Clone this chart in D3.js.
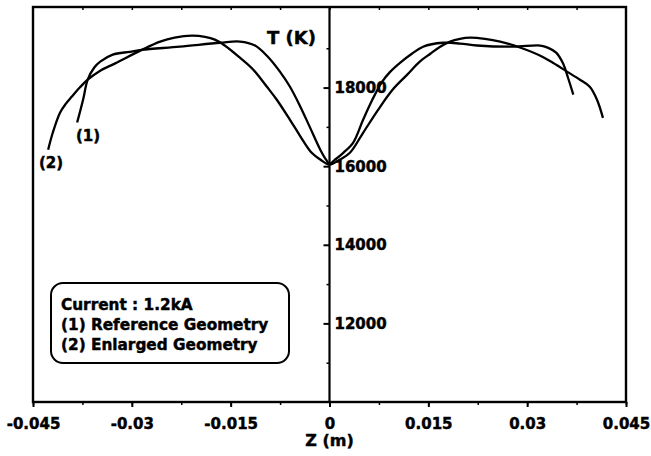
<!DOCTYPE html>
<html><head><meta charset="utf-8">
<script src="https://cdn.jsdelivr.net/npm/d3@7"></script>
<style>body{margin:0;background:#fff}svg{display:block}text{font-family:"DejaVu Sans",sans-serif;font-weight:bold;fill:#000;stroke:#000;stroke-width:0.45px}</style>
</head><body>
<svg id="c" width="651" height="456"></svg>
<script>
// Curve (1): Reference Geometry
const z1 = [-0.0383,-0.0374,-0.0367,-0.0357,-0.0348,-0.0329,-0.0303,-0.0285,-0.0227,-0.0166,-0.0136,-0.0113,-0.0095,-0.0075,-0.0060,-0.0045,-0.0030,-0.0014,-0.0005,0,
  0.0008,0.0021,0.0036,0.0051,0.0065,0.0080,0.0092,0.0107,0.0125,0.0142,0.0172,0.0198,0.0224,0.0279,0.0320,0.0332,0.0344,0.0354,0.0362,0.0370];
const t1 = [17110,17690,18200,18510,18660,18840,18910,18960,19040,19140,19170,19070,18810,18400,18020,17540,17000,16420,16160,16060,
  16160,16340,16600,17180,17690,18150,18400,18630,18860,19040,19140,19120,19070,19040,19070,19010,18890,18630,18250,17820];
// Curve (2): Enlarged Geometry
const z2 = [-0.0427,-0.0420,-0.0409,-0.0400,-0.0391,-0.0379,-0.0367,-0.0348,-0.0326,-0.0285,-0.0257,-0.0235,-0.0209,-0.0189,-0.0174,-0.0159,-0.0136,-0.0116,-0.0095,-0.0080,-0.0060,-0.0045,-0.0027,-0.0014,0,
  0.0016,0.0031,0.0051,0.0074,0.0096,0.0118,0.0137,0.0153,0.0168,0.0183,0.0198,0.0213,0.0236,0.0259,0.0289,0.0320,0.0339,0.0361,0.0380,0.0395,0.0406,0.0415];
const t2 = [16420,16850,17360,17590,17770,18000,18200,18430,18610,18960,19170,19270,19320,19290,19220,19070,18760,18460,18020,17690,17180,16780,16340,16170,16040,
  16170,16340,16850,17440,17950,18330,18660,18860,19040,19170,19240,19270,19240,19170,19020,18810,18630,18400,18200,18020,17690,17230];
const xTicks = [-0.045,-0.03,-0.015,0,0.015,0.03,0.045];
const xTickLabels = ["-0.045","-0.03","-0.015","0","0.015","0.03","0.045"];
const yTicks = [12000,14000,16000,18000];
const legendLines = ["Current : 1.2kA","(1) Reference Geometry","(2) Enlarged Geometry"];

const svg = d3.select("#c");
const L=33,R=626,T=7,B=402;
const x = d3.scaleLinear().domain([-0.045,0.045]).range([L,R]);
const y = d3.scaleLinear().domain([10000,20050]).range([B,T]);

// frame
svg.append("rect").attr("x",L).attr("y",T).attr("width",R-L).attr("height",B-T)
  .attr("fill","none").attr("stroke","#000").attr("stroke-width",2.4);

// bottom axis
const minorX = d3.range(-0.045,0.0451,0.0075);
svg.append("g").attr("transform",`translate(0,${B})`)
  .call(d3.axisBottom(x).tickValues(minorX).tickSize(3).tickFormat(""))
  .call(g=>{g.select(".domain").remove();g.selectAll("line").attr("stroke-width",1.5);});
const xa = svg.append("g").attr("transform",`translate(0,${B})`)
  .call(d3.axisBottom(x).tickValues(xTicks).tickSize(5).tickPadding(11).tickFormat((d,i)=>xTickLabels[i]));
xa.select(".domain").remove();
xa.selectAll("line").attr("stroke-width",2);
xa.selectAll("text").attr("font-size",15).attr("font-family","DejaVu Sans").attr("font-weight","bold").attr("fill","#000");
// top minor ticks
svg.append("g").attr("transform",`translate(0,${T})`)
  .call(d3.axisBottom(x).tickValues(minorX.slice(1,-1)).tickSize(3).tickFormat(""))
  .call(g=>{g.select(".domain").remove();g.selectAll("line").attr("stroke-width",1.5);});

// y axis at z=0
svg.append("line").attr("x1",x(0)).attr("x2",x(0)).attr("y1",T).attr("y2",B).attr("stroke","#000").attr("stroke-width",2.2);
svg.append("g").attr("transform",`translate(${x(0)},0)`)
  .call(d3.axisLeft(y).tickValues([11000,13000,15000,17000,19000]).tickSize(3).tickFormat(""))
  .call(g=>{g.select(".domain").remove();g.selectAll("line").attr("stroke-width",1.5);});
const ya = svg.append("g").attr("transform",`translate(${x(0)},0)`)
  .call(d3.axisLeft(y).tickValues(yTicks).tickSize(6).tickFormat(""));
ya.select(".domain").remove();
ya.selectAll("line").attr("stroke-width",2);
svg.append("g").selectAll("text").data(yTicks).join("text")
  .attr("x",x(0)+5).attr("y",d=>y(d)).attr("dy","0.37em").attr("font-size",15).text(d=>d);

// curves
const line = d3.line().x(d=>x(d[0])).y(d=>y(d[1])).curve(d3.curveCatmullRom.alpha(0.5));
[[z1,t1],[z2,t2]].forEach(([zz,tt])=>{
  svg.append("path").datum(zz.map((z,i)=>[z,tt[i]])).attr("d",line)
    .attr("fill","none").attr("stroke","#000").attr("stroke-width",2.3).attr("stroke-linejoin","round");
});

// curve labels
svg.append("text").attr("x",76).attr("y",141).attr("font-size",15).text("(1)");
svg.append("text").attr("x",39).attr("y",168).attr("font-size",15).text("(2)");

// axis titles
svg.append("text").attr("x",267).attr("y",44).attr("font-size",18).text("T (K)");
svg.append("text").attr("x",x(0)).attr("y",446).attr("text-anchor","middle").attr("font-size",16).text("Z (m)");

// legend
svg.append("rect").attr("x",51).attr("y",283).attr("width",238).attr("height",80).attr("rx",12)
  .attr("fill","#fff").attr("stroke","#000").attr("stroke-width",2);
svg.append("g").selectAll("text").data(legendLines).join("text")
  .attr("x",61).attr("y",(d,i)=>310+i*20).attr("font-size",15.3).text(d=>d);
</script>
</body></html>
